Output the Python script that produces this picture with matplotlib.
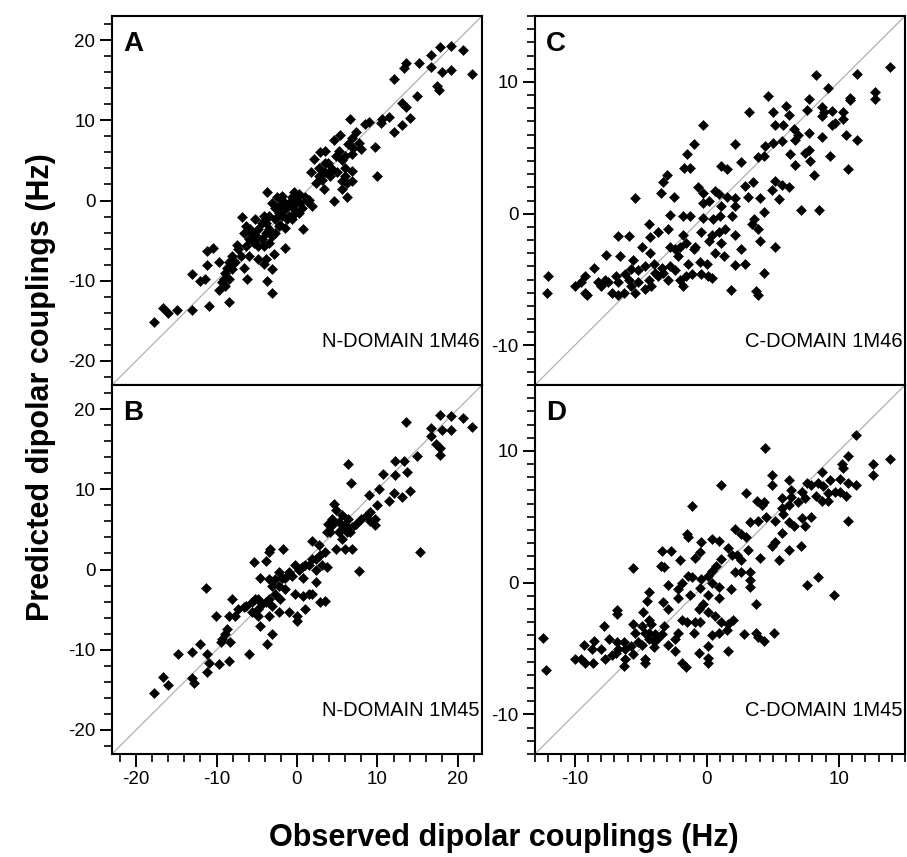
import matplotlib
matplotlib.use('Agg')
import matplotlib.pyplot as plt
from matplotlib.ticker import MultipleLocator

plt.rcParams['font.family'] = ['Liberation Sans', 'DejaVu Sans']
plt.rcParams['axes.unicode_minus'] = False

# A: N-DOMAIN 1M46  (observed, predicted)
a_obs = [19.1, 17.8, 20.6, 16.7, 15.2, 13.6, 13.3, 16.7, 18.0, 19.1, 21.7, 12.1, 17.4, 17.7,
         14.9, 13.1, 13.5, 14.0, 11.4, 10.6, 10.4, 9.0, 8.5, 6.6, 13.1, 12.1, 9.7, 9.9, 7.3,
         6.8, 5.4, 4.6, 6.4, 7.7, 7.9, 6.8, 6.0, 5.6, 4.8, 3.5, 2.9, 2.1, 3.9, 4.4, 3.5, 2.7,
         1.7, 2.3, 3.1, 3.3, 5.6, 6.0, 6.8, 6.8, 6.2, 4.6, 5.6,
         -3.7, -1.9, -0.4, 0.2, 1.0, 0.0, -1.0, -2.1, -3.1, -2.7, -1.5, -0.4, 0.6, 1.9, 0.2,
         -1.0, -1.9, -2.7, -3.5, -3.9, -2.3, -1.5, -0.6, 0.8, 1.5, -0.6, -2.3, -3.5, -5.2,
         -6.8, -5.2, -4.4, -6.4, -5.6, -4.8, -3.9, -3.1, -4.4, -6.0, -5.4, -4.8, -6.4, -7.5,
         -7.0, -6.0, -4.8, -3.9, -2.9, -1.5, -4.1, -3.1, -3.7, -3.1, -6.2, -6.6, -8.1, -8.5,
         -8.7, -8.9, -9.1, -9.3, -9.7, -8.5,
         -11.2, -10.4, -11.2, -9.7, -13.1, -12.0, -11.4, -11.0, -13.1, -14.9, -16.6, -16.0, -17.8,
         -6.6, -5.8, -5.0, -4.1, -3.5, -2.7, -2.1, -1.2, -0.2, 0.4, 1.2, -0.6, -1.7, -2.5,
         -4.1, -7.3, -7.7, -8.1, -8.5, -8.9, 3.5, 4.1, 5.0, 6.0, 6.2, 2.7, 5.2, 7.0]
a_pred = [19.3, 19.1, 18.8, 18.1, 17.1, 17.2, 16.5, 16.7, 16.0, 16.3, 15.8, 15.1, 14.3, 13.8,
          13.0, 12.1, 11.6, 10.3, 10.4, 10.1, 9.6, 9.8, 9.5, 10.2, 9.4, 8.5, 6.7, 3.1, 8.5,
          7.8, 8.2, 7.6, 7.1, 7.2, 6.4, 5.8, 5.5, 5.1, 5.5, 6.2, 6.0, 5.2, 4.7, 3.9, 3.5, 3.1,
          3.5, 2.2, 2.6, 1.4, 2.4, 3.1, 3.7, 2.4, 0.4, -0.1, 1.4,
          1.0, 0.6, 1.0, 0.8, 0.4, -0.1, -0.3, -0.5, -0.3, -0.9, -1.1, -1.1, -0.9, -0.7, -1.5,
          -1.9, -1.9, -2.3, -1.9, -2.8, -3.2, -3.4, -2.3, -3.6, 0.1, 0.4, -1.5, -3.6, -4.4,
          -2.1, -2.3, -2.8, -3.2, -4.0, -3.6, -4.0, -4.4, -4.8, -4.8, -5.3, -5.7, -5.7, -5.5,
          -6.9, -6.9, -7.3, -7.3, -6.7, -5.9, -7.9, -8.6, -10.0, -11.5, -9.8, -8.4, -6.9, -7.7,
          -8.4, -9.0, -9.8, -10.2, -11.1, -12.7,
          -6.3, -5.9, -8.0, -7.7, -9.2, -10.0, -9.8, -13.1, -13.6, -13.6, -13.4, -14.0, -15.1,
          -4.0, -3.6, -4.6, -5.7, -5.3, -4.0, -3.0, -2.3, -1.5, -0.3, -0.1, -0.7, -0.1, 0.4,
          -1.9, -6.1, -7.7, -8.6, -9.8, -10.7, 4.7, 3.1, 3.5, 4.1, 2.2, 4.1, 6.2, 6.6]

# B: N-DOMAIN 1M45
b_obs = [17.8, 19.1, 20.6, 21.7, 13.6, 16.7, 18.0, 19.1, 16.7, 17.3, 17.8, 17.8, 14.9, 13.3,
         12.2, 6.3, 13.7, 12.2, 10.7, 6.7, 10.2, 8.9, 12.1, 13.1, 14.1, 11.4, 10.0, 9.1, 9.7,
         9.7, 8.7, 7.9, 7.3, 6.4, 5.6, 4.8, 4.6, 4.4, 3.9, 3.7, 5.2, 6.0, 6.8, 6.2, 5.6, 6.0,
         6.8, 4.8, 15.3, 7.7, 3.5, 2.9, 2.3, 1.9, 2.7, 3.1, 3.7, 2.3, 1.5, 0.6, -0.2, -1.0,
         -1.5, -2.3, -2.7, -3.3, -3.5, -1.8, -3.9, -5.4, -4.6, -3.5, -3.1, -2.3, -1.5, -0.2,
         0.8, 1.5, 1.9, 2.3, 0.8, 2.9, 3.5, 1.0, 0.0, 0.0, -1.0, -2.3, -3.1, -3.9, -4.8, -4.8,
         -5.6, -6.4, -7.3, -8.1, -7.7, -8.5, -4.8, -4.6, -3.1, -3.7, -6.0, -8.7, -8.9, -9.3,
         -9.5, -8.3, -8.5, -9.7, -10.1, -11.3, -12.0, -11.2, -11.0, -11.2, -13.1, -13.1, -12.8,
         -14.8, -16.6, -16.0, -17.8,
         -5.2, -4.4, -3.5, -2.7, -2.1, -3.5, -5.6, -6.6, -1.9, -0.6, 0.2, 1.0, 1.9, 4.4, 5.2,
         6.0, 6.6, 5.6, 4.1, 9.1]
b_pred = [19.3, 19.1, 18.9, 17.8, 18.4, 17.7, 17.4, 17.4, 16.7, 15.7, 15.1, 14.3, 14.1, 13.5,
          13.5, 13.2, 12.1, 11.8, 11.9, 10.8, 10.0, 9.3, 9.5, 9.0, 9.8, 8.6, 8.0, 7.2, 6.3,
          5.6, 6.8, 6.3, 5.7, 6.3, 6.8, 7.4, 8.2, 6.3, 5.7, 4.7, 4.7, 5.1, 5.3, 4.7, 3.8, 2.6,
          2.6, 2.6, 2.2, -0.2, 2.2, 1.8, 1.3, 3.6, 3.0, 0.5, 0.3, -0.1, 0.5, 0.3, 0.5, -0.3,
          -1.0, -0.3, -1.2, 2.6, 2.2, 2.6, 1.1, 0.9, -1.0, -1.2, -2.0, -2.0, -2.4, -3.0,
          -3.3, -3.0, -3.0, -1.6, -1.0, -4.1, -3.9, -4.9, -5.8, -6.4, -5.3, -5.3, -4.5, -4.1,
          -3.7, -4.9, -4.1, -4.5, -4.9, -3.7, -5.8, -5.8, -5.8, -7.0, -8.0, -9.3, -10.5, -7.4,
          -8.0, -8.7, -9.1, -9.1, -11.4, -11.8, -5.8, -2.3, -9.3, -10.5, -11.6, -12.8, -10.3,
          -13.5, -14.1, -10.5, -13.4, -14.4, -15.4,
          -3.7, -4.3, -3.7, -3.0, -3.7, -5.8, -5.3, -4.7, -1.0, -0.8, -0.1, 0.5, 1.3, 5.5, 5.9,
          5.7, 4.7, 5.1, 4.7, 6.1]

# C: C-DOMAIN 1M46
c_obs = [13.9, 11.4, 8.3, 9.2, 12.7, 12.7, 10.8, 10.8, 4.6, 6.0, 7.7, 3.2, 5.0, 6.2, 7.6, 8.7,
         8.9, 9.5, 10.3, 10.3, 9.7, 9.5, 8.7, -0.3, 5.2, 5.8, 6.6, 6.9, 6.7, 5.7, 5.0, 4.4,
         7.7, 8.7, 10.5, 11.4, 2.1, -1.0, -1.5, -1.7, -1.3, 1.1, 1.5, 2.6, 3.9, 4.3, 6.3, 7.4,
         7.7, 7.8, 6.7, 9.3, 10.7, 8.1, -3.0, -3.3, -3.5, -2.5, -5.4, -0.7, -0.3, 0.6, 0.9,
         1.5, 2.1, 2.9, 3.5, 3.1, 4.0, 5.2, 5.7, 6.2, 5.5, 4.9, 7.1, 8.5, -2.8, -1.8, -1.3,
         -0.3, 0.5, 1.0, 1.9, 1.1, 0.2, -0.3, 2.1, 3.6, 3.4, 4.3, 3.9, 4.0, 5.2, 2.6, 2.1,
         1.4, 0.9, 0.4, 0.2, -0.4, -0.9, -1.6, -1.8, -2.0, -2.8, -2.9, -3.7, -4.4, -4.3, -5.9,
         -6.7, -7.6, -6.6, -5.6, -4.9, -4.3, -4.0, -4.7, -5.2, -5.7, -6.2, -6.9, -7.7, -8.5,
         -9.2, -9.5, -10.0, -9.2, -9.1, -8.0, -7.2, -6.3, -5.7, -4.7, -4.2, -3.7, -3.4, -2.8,
         -2.4, -2.2, -2.4, -1.4, -0.5, 0.0, 0.6, 1.3, 0.1, -0.4, 0.4, -1.1, -1.6, -2.0, -1.8,
         -2.9, -3.3, -12.0, -12.1, 1.8, 3.7, 3.9, 4.3, 2.9, 2.1, -1.0, 1.1,
         -8.2, -7.5, -6.7, -5.9, -5.2, -4.4, -3.9, -5.4, -6.7]
c_pred = [11.1, 10.6, 10.5, 9.5, 9.2, 8.7, 8.8, 8.6, 8.9, 8.2, 8.7, 7.7, 7.7, 7.5, 7.9, 8.1,
          7.7, 7.8, 7.7, 7.2, 6.9, 6.7, 7.4, 6.7, 6.7, 6.7, 6.4, 6.0, 5.6, 5.5, 5.4, 5.1,
          6.1, 5.8, 6.0, 5.6, 5.3, 5.3, 4.5, 3.5, 3.5, 3.6, 3.4, 3.9, 4.3, 4.4, 4.5, 4.6,
          4.8, 4.0, 3.7, 4.4, 3.4, 2.9, 2.9, 2.4, 1.6, 1.3, 1.2, 2.0, 1.6, 1.7, 1.5,
          1.3, 1.2, 2.1, 2.4, 1.3, 1.2, 2.5, 2.2, 2.0, 1.1, 1.8, 0.3, 0.3, -0.1, -0.2, -0.2,
          -0.3, -0.4, -0.2, -0.2, 0.6, 1.0, 0.8, 0.6, -0.4, -0.8, 0.1, -1.2, -2.1, -2.5, -2.7, -1.6,
          -1.2, -1.4, -1.6, -2.1, -1.4, -2.5, -2.2, -1.6, -2.5, -2.5, -1.2, -1.4, -0.8, -1.8, -1.7,
          -1.7, -3.1, -3.2, -3.5, -2.5, -3.0, -3.8, -4.0, -4.3, -4.2, -4.6, -4.7, -5.0, -4.1,
          -4.7, -5.2, -5.5, -6.0, -6.2, -5.5, -6.0, -6.0, -5.5, -5.7, -5.5, -4.7, -4.1, -4.0,
          -4.3, -3.2, -2.7, -3.8, -3.7, -3.8, -3.0, -3.2, -4.7, -4.6, -4.9, -4.6, -4.7, -5.0, -5.5,
          -5.0, -4.5, -4.7, -6.0, -5.8, -5.9, -6.2, -4.5, -3.8, -3.9, -2.7, -2.2,
          -5.2, -5.2, -5.2, -5.0, -5.2, -5.0, -4.5, -6.0, -6.2]

# D: C-DOMAIN 1M45
d_obs = [11.3, 4.4, 13.9, 10.7, 12.6, 12.6, 10.2, 10.3, 8.7, 9.3, 10.7, 11.3, 10.1, 7.6, 6.2,
         4.9, 4.9, 1.1, 3.0, 3.8, 4.3, 4.2, 5.7, 6.4, 6.4, 7.2, 7.9, 8.4, 8.8, 8.3, 7.4, 6.9,
         6.2, 5.7, 5.8, 5.2, 6.2, 6.6, 7.2, 7.4, 7.9, 9.2, 9.7, 10.1, 10.5, 9.2, 8.7, 10.7,
         -1.1, 3.3, 3.9, 4.5, 2.1, 2.6, 3.0, 5.7, 5.2, 4.9, 6.2, 7.1, 5.5, 4.0, 3.1, 1.6, 1.9,
         2.3, 2.6, 1.1, 0.4, 0.9, -0.4, -0.5, -0.9, -1.5, -1.4, -2.7, -3.4, -3.5, -3.2, -2.0,
         0.7, 0.4, 0.1, -0.4, -1.1, -1.4, -1.9, -2.2, -2.9, 2.1, 2.6, 3.3, 3.3, 3.3, 1.8, 0.9,
         0.4, -5.6, -4.4, -4.5, -3.3, -2.9, -2.2, -1.3, -0.5, 0.1, 0.9, -0.3, -0.6, 0.1, 0.6,
         1.1, 1.6, 2.0, 1.5, 0.9, 0.4, 0.1, -0.5, -0.9, -1.0, -1.5, -1.9, -2.2, -2.4, -2.4,
         -1.9, -1.6, -0.6, 0.1, 0.1, 1.6, 2.8, 3.7, 3.7, 3.9, 4.3, 5.1, 7.6, 8.4, 9.6, -6.8,
         -6.8, -7.8, -5.6, -5.4, -4.8, -4.4, -4.2, -4.7, -4.4, -3.8, -3.4, -3.2, -2.9, -4.0,
         -4.9, -5.7, -6.3, -6.8, -7.4, -8.5, -8.7, -9.3, -10.0, -9.2, -8.6, -7.7, -7.2, -6.7,
         -6.2, -6.3, -5.6, -4.7, -4.7, -12.4, -12.2,
         -9.5, -8.0, -6.9, -6.2, -5.2, -4.4, -4.0, -3.9, -4.9]
d_pred = [11.2, 10.2, 9.4, 9.6, 9.0, 8.2, 9.0, 8.7, 8.4, 7.8, 7.6, 7.4, 7.9, 7.6, 7.8,
          8.2, 7.4, 7.4, 6.8, 6.2, 6.1, 5.9, 6.4, 7.0, 6.5, 6.9, 7.4, 7.6, 7.3, 6.6, 6.4, 6.1,
          5.9, 5.7, 5.2, 4.7, 4.6, 4.3, 4.9, 4.3, 5.0, 6.2, 6.9, 6.9, 6.6, 6.8, 6.2, 4.7,
          5.8, 4.6, 4.7, 5.0, 4.1, 3.7, 3.5, 3.8, 3.1, 2.8, 2.5, 2.8, 1.7, 1.9, 2.5, 2.6, 2.1,
          2.1, 1.7, 1.8, 3.3, 3.2, 3.1, 2.3, 1.9, 3.7, 3.5, 2.4, 2.4, 1.3, 1.2, 1.7,
          1.3, 0.9, 0.5, 0.3, 0.4, 0.5, 0.0, -0.5, -0.2, 0.8, 0.8, 0.8, 0.2, -0.3, -0.5, -0.3,
          0.0, 1.1, -0.7, -1.4, -1.5, -2.0, -1.2, -0.9, -0.4, -0.9, -1.2, -1.6, -2.0, -2.2, -2.5,
          -3.0, -3.1, -2.8, -3.6, -3.8, -4.0, -4.8, -3.0, -3.0, -3.8, -3.0, -2.8, -3.8, -4.3,
          -5.2, -6.1, -6.4, -5.3, -5.7, -6.1, -5.2, -3.9, -3.8, -1.6, -4.1, -4.4, -3.8, -0.2,
          0.4, -0.9, -2.1, -2.4, -3.3, -3.1, -3.8, -2.2, -2.8, -3.1, -3.8, -4.3, -4.3, -3.9,
          -3.3, -4.7, -4.9, -4.7, -4.8, -4.5, -4.5, -4.3, -4.4, -5.0, -4.7, -5.8, -6.1, -6.1,
          -5.8, -5.5, -5.0, -5.8, -6.3, -5.4, -5.8, -6.1, -4.2, -6.6,
          -5.8, -5.0, -5.3, -5.0, -4.5, -3.8, -4.4, -3.9, -3.3]

panels = [
    ('A', 'N-DOMAIN 1M46', a_obs, a_pred, (-23, 23), 10, 2, [112, 16]),
    ('B', 'N-DOMAIN 1M45', b_obs, b_pred, (-23, 23), 10, 2, [112, 385]),
    ('C', 'C-DOMAIN 1M46', c_obs, c_pred, (-13, 15), 10, 1, [535, 16]),
    ('D', 'C-DOMAIN 1M45', d_obs, d_pred, (-13, 15), 10, 1, [535, 385]),
]

W, H = 907, 857
fig = plt.figure(figsize=(W / 100, H / 100), dpi=100)

for letter, name, xs, ys, lim, major, minor, (px, py) in panels:
    ax = fig.add_axes([px / W, 1 - (py + 369) / H, 370 / W, 369 / H])
    ax.plot(lim, lim, color='#b0b0b0', lw=0.9, zorder=1)
    ax.plot(xs, ys, 'D', color='black', ms=5.6, mew=0.4, zorder=2)
    ax.set_xlim(lim)
    ax.set_ylim(lim)
    for s in ax.spines.values():
        s.set_linewidth(1.5)
    ax.xaxis.set_major_locator(MultipleLocator(major))
    ax.xaxis.set_minor_locator(MultipleLocator(minor))
    ax.yaxis.set_major_locator(MultipleLocator(major))
    ax.yaxis.set_minor_locator(MultipleLocator(minor))
    ax.tick_params(which='major', direction='out', length=9, width=1.4, labelsize=13.5, pad=3)
    ax.tick_params(which='minor', direction='out', length=6, width=1.2)
    if letter in 'AC':
        ax.tick_params(axis='x', which='both', bottom=False, labelbottom=False)
    ax.text(0.03, 0.905, letter, transform=ax.transAxes, fontsize=20, fontweight='bold',
            ha='left', va='baseline')
    ax.text(0.993, 0.103, name, transform=ax.transAxes, fontsize=14.5,
            ha='right', va='baseline')

fig.text(0.045, 0.548, 'Predicted dipolar couplings (Hz)', rotation=90, fontsize=22,
         fontweight='bold', ha='center', va='center')
fig.text(0.556, 0.022, 'Observed dipolar couplings (Hz)', fontsize=22,
         fontweight='bold', ha='center', va='center')

fig.savefig('out.png', dpi=100)
